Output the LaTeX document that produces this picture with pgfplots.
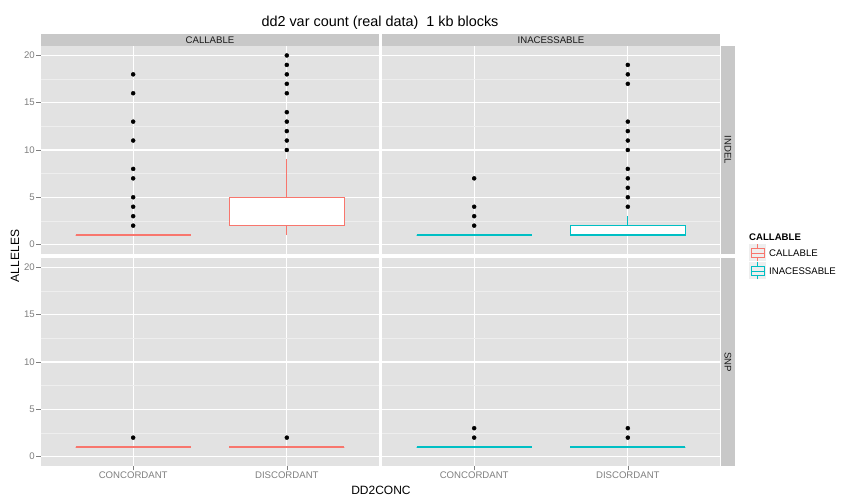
\documentclass[border=0pt]{standalone}
\usepackage{fontspec}
\setmainfont{Liberation Sans}
\usepackage{pgfplots}
\pgfplotsset{compat=1.18}
\definecolor{ggbg}{HTML}{E2E2E2}
\definecolor{ggstrip}{HTML}{C8C8C8}
\definecolor{ggminor}{HTML}{EEEEEE}
\definecolor{gg50}{HTML}{7F7F7F}
\definecolor{gg10}{HTML}{1A1A1A}
\definecolor{ggred}{HTML}{F8766D}
\definecolor{ggcyan}{HTML}{00BFC4}
\newcommand\fsz[1]{\fontsize{#1bp}{#1bp}\selectfont}
% #1 left, #2 right, #3 centre, #4 lower whisker, #5 q1, #6 median, #7 q3, #8 upper whisker, #9 colour
\newcommand\gbox[9]{%
  \addplot[draw=#9, fill=white, line width=0.8bp] coordinates {(#1,#5) (#2,#5) (#2,#7) (#1,#7)} -- cycle;
  \addplot[draw=#9, line width=0.8bp] coordinates {(#3,#4) (#3,#5)};
  \addplot[draw=#9, line width=0.8bp] coordinates {(#3,#7) (#3,#8)};
  \addplot[draw=#9, line width=1.7bp] coordinates {(#1,#6) (#2,#6)};}
\pgfplotsset{
  ggpanel/.style={
    scale only axis, width=338bp, height=208bp,
    xmin=0.4, xmax=2.6, ymin=-1, ymax=21,
    axis background/.style={fill=ggbg},
    axis line style={draw=none},
    xtick={1,2}, ytick={0,5,10,15,20},
    minor ytick={2.5,7.5,12.5,17.5},
    xmajorgrids, ymajorgrids, yminorgrids,
    major grid style={white, line width=1.1bp},
    minor grid style={ggminor, line width=0.55bp},
    tick pos=left,
    tick align=outside, major tick length=4.5bp, minor tick length=0pt,
    tick style={gg50, line width=0.6bp},
    tick label style={font=\fsz{9.6}, text=gg50, inner sep=1.5bp},
    /pgf/number format/assume math mode=true,
    xticklabels={CONCORDANT,DISCORDANT},
  },
  noxt/.style={xticklabels={}, xmajorticks=false, xmajorgrids},
  noyt/.style={yticklabels={}, ymajorticks=false, ymajorgrids},
}
\begin{document}
\begin{tikzpicture}
\fill[white] (0,0) rectangle (864bp,504bp);
% ---------- top left: INDEL / CALLABLE
\begin{axis}[ggpanel, noxt, at={(41bp,250bp)}, anchor=south west]
\gbox{0.625}{1.375}{1}{1}{1}{1}{1}{1}{ggred}
\gbox{1.625}{2.375}{2}{1}{2}{2}{5}{9}{ggred}
\addplot[only marks, mark=*, mark size=2bp, black] coordinates {
(1,2) (1,3) (1,4) (1,5) (1,7) (1,8) (1,11) (1,13) (1,16) (1,18)
(2,10) (2,11) (2,12) (2,13) (2,14) (2,16) (2,17) (2,18) (2,19) (2,20)};
\end{axis}
% ---------- top right: INDEL / INACESSABLE
\begin{axis}[ggpanel, noxt, noyt, at={(382bp,250bp)}, anchor=south west]
\gbox{0.625}{1.375}{1}{1}{1}{1}{1}{1}{ggcyan}
\gbox{1.625}{2.375}{2}{1}{1}{1}{2}{3}{ggcyan}
\addplot[only marks, mark=*, mark size=2bp, black] coordinates {
(1,2) (1,3) (1,4) (1,7)
(2,4) (2,5) (2,6) (2,7) (2,8) (2,10) (2,11) (2,12) (2,13) (2,17) (2,18) (2,19)};
\end{axis}
% ---------- bottom left: SNP / CALLABLE
\begin{axis}[ggpanel, at={(41bp,38bp)}, anchor=south west]
\gbox{0.625}{1.375}{1}{1}{1}{1}{1}{1}{ggred}
\gbox{1.625}{2.375}{2}{1}{1}{1}{1}{1}{ggred}
\addplot[only marks, mark=*, mark size=2bp, black] coordinates {
(1,2) (2,2)};
\end{axis}
% ---------- bottom right: SNP / INACESSABLE
\begin{axis}[ggpanel, noyt, at={(382bp,38bp)}, anchor=south west]
\gbox{0.625}{1.375}{1}{1}{1}{1}{1}{1}{ggcyan}
\gbox{1.625}{2.375}{2}{1}{1}{1}{1}{1}{ggcyan}
\addplot[only marks, mark=*, mark size=2bp, black] coordinates {
(1,2) (1,3) (2,2) (2,3)};
\end{axis}
% ---------- strips
\fill[ggstrip] (41bp,458bp) rectangle (379bp,470bp);
\fill[ggstrip] (382bp,458bp) rectangle (720bp,470bp);
\fill[ggstrip] (721bp,250bp) rectangle (735bp,458bp);
\fill[ggstrip] (721bp,38bp) rectangle (735bp,246bp);
\node[text=gg10, font=\fsz{9.6}] at (210bp,464bp) {CALLABLE};
\node[text=gg10, font=\fsz{9.6}] at (551bp,464bp) {INACESSABLE};
\node[text=gg10, font=\fsz{9.6}, rotate=-90] at (728bp,354bp) {INDEL};
\node[text=gg10, font=\fsz{9.6}, rotate=-90] at (728bp,142bp) {SNP};
% ---------- titles
\node[font=\fsz{14.4}] at (380bp,481bp) {dd2 var count (real data)\ \ 1 kb blocks};
\node[font=\fsz{12}, rotate=90] at (15bp,248bp) {ALLELES};
\node[font=\fsz{12}] at (381bp,14bp) {DD2CONC};
% ---------- legend
\node[font=\bfseries\fsz{9.6}, anchor=west, inner sep=0pt] at (749bp,267bp) {CALLABLE};
\fill[ggminor] (749bp,242.5bp) rectangle (766bp,259.5bp);
\fill[ggminor] (749bp,224.5bp) rectangle (766bp,241.5bp);
\draw[ggred, line width=0.8bp] (751bp,246.5bp) rectangle (764bp,255.5bp);
\draw[ggred, line width=0.8bp] (751bp,251bp) -- (764bp,251bp);
\draw[ggred, line width=0.8bp] (757.5bp,242.5bp) -- (757.5bp,246.5bp) (757.5bp,255.5bp) -- (757.5bp,259.5bp);
\draw[ggcyan, line width=0.8bp] (751bp,228.5bp) rectangle (764bp,237.5bp);
\draw[ggcyan, line width=0.8bp] (751bp,233bp) -- (764bp,233bp);
\draw[ggcyan, line width=0.8bp] (757.5bp,224.5bp) -- (757.5bp,228.5bp) (757.5bp,237.5bp) -- (757.5bp,241.5bp);
\node[font=\fsz{9.6}, anchor=west, inner sep=0pt] at (769bp,251bp) {CALLABLE};
\node[font=\fsz{9.6}, anchor=west, inner sep=0pt] at (769bp,232.5bp) {INACESSABLE};
\end{tikzpicture}
\end{document}
